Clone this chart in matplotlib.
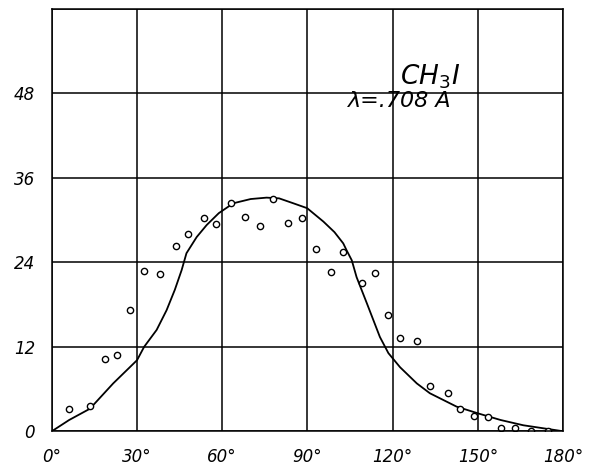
import matplotlib.pyplot as plt

# measured points (scattering angle in degrees, intensity)
obs_angle = [6.1, 13.4, 18.6, 23.0, 27.6, 32.3, 38.2, 43.8, 48.0, 53.4, 57.8,
             63.1, 68.0, 73.4, 77.9, 83.2, 88.2, 92.9, 98.3, 102.6, 109.2,
             113.7, 118.2, 122.5, 128.5, 133.0, 139.4, 143.7, 148.5, 153.6,
             158.2, 163.2, 168.6, 174.6]
obs_int = [3.1, 3.6, 10.2, 10.9, 17.2, 22.8, 22.4, 26.3, 28.1, 30.3, 29.5,
           32.5, 30.4, 29.2, 33.0, 29.6, 30.3, 25.9, 22.6, 25.5, 21.0,
           22.5, 16.5, 13.2, 12.8, 6.4, 5.5, 3.1, 2.2, 2.0,
           0.4, 0.5, 0.0, 0.0]

# theoretical curve
curve_angle = [0, 6.1, 13.4, 21.6, 30, 32.5, 36.9, 40.4, 43.3, 45.7, 47.4,
               51.0, 54.5, 58.8, 63.9, 70, 75.6, 80, 85, 89.9, 95.6, 99.5,
               102.6, 103.8, 105.6, 107.3, 110.9, 115.5, 118.5, 122.6, 128.5,
               133.1, 142.5, 150.4, 158, 166, 180]
curve_int = [0, 1.6, 3.2, 6.8, 10.1, 12.0, 14.4, 17.2, 20.1, 22.9, 25.3,
             27.6, 29.3, 31.0, 32.4, 33.0, 33.2, 33.1, 32.4, 31.7, 29.8, 28.3,
             26.7, 25.7, 24.3, 21.9, 18.2, 13.4, 11.1, 9.1, 6.8,
             5.4, 3.5, 2.5, 1.6, 0.85, 0]

x_ticks = [0, 30, 60, 90, 120, 150, 180]
x_labels = ["0°", "30°", "60°", "90°", "120°", "150°", "180°"]
y_ticks = [0, 12, 24, 36, 48, 60]
y_labels = ["0", "12", "24", "36", "48", ""]

fig = plt.figure(figsize=(5.89, 4.76), dpi=100)
ax = fig.add_axes([0.088, 0.094, 0.868, 0.887])

ax.plot(curve_angle, curve_int, color="black", linewidth=1.3)
ax.plot(obs_angle, obs_int, linestyle="none", marker="o", markersize=4.5,
        markerfacecolor="white", markeredgecolor="black", markeredgewidth=1.0)

ax.set_xlim(0, 180)
ax.set_ylim(0, 60)
ax.set_xticks(x_ticks)
ax.set_xticklabels(x_labels, fontsize=12, fontstyle="italic")
ax.set_yticks(y_ticks)
ax.set_yticklabels(y_labels, fontsize=12, fontstyle="italic")
ax.tick_params(length=0, pad=12)
ax.grid(True, color="black", linewidth=1.1)
for s in ax.spines.values():
    s.set_linewidth(1.1)

ax.text(133, 50.4, "CH$_3$I", fontsize=19, fontstyle="italic",
        ha="center", va="center")
ax.text(122.5, 47.0, "λ=.708 A", fontsize=16, fontstyle="italic",
        ha="center", va="center")

fig.savefig("out.png", dpi=100)
